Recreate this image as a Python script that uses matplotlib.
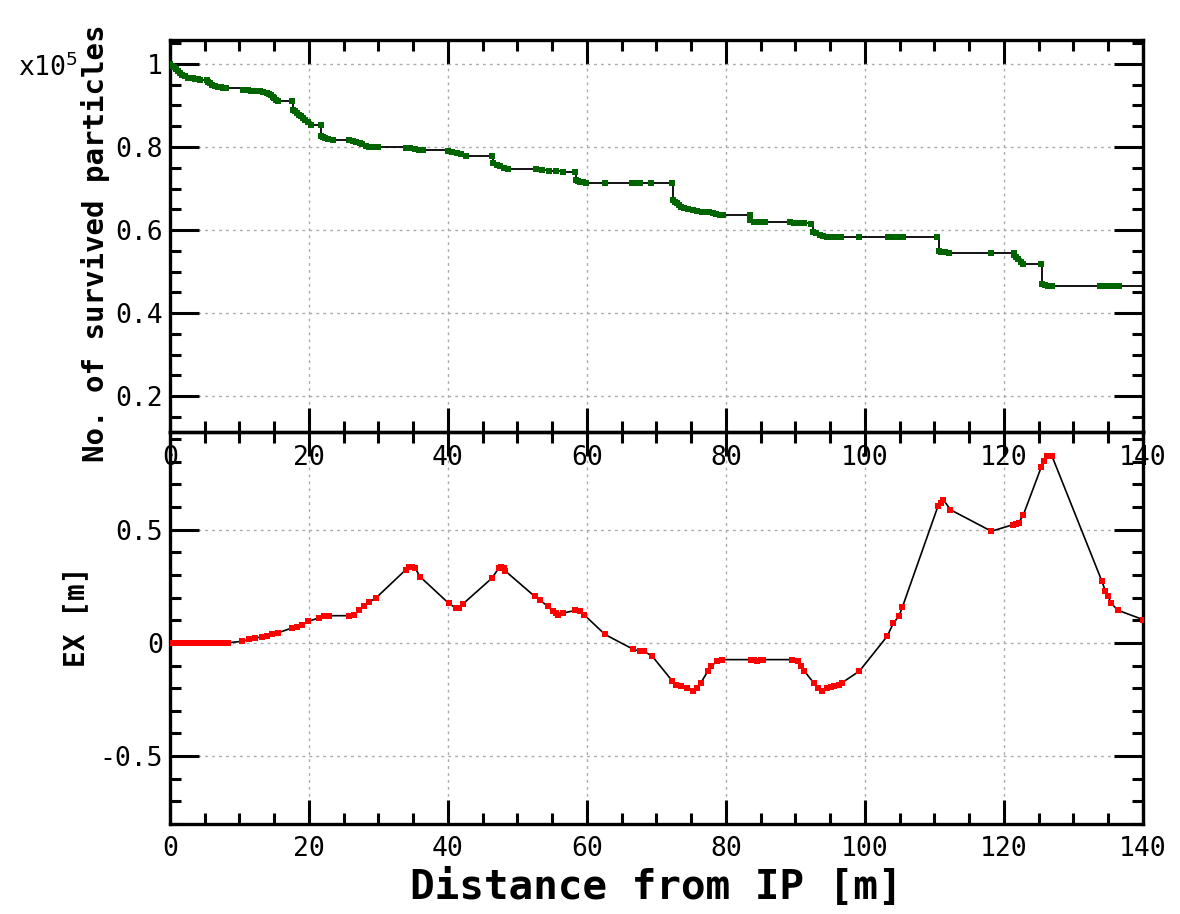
import numpy as np
import matplotlib
matplotlib.use("Agg")
import matplotlib.pyplot as plt
from matplotlib.ticker import MultipleLocator, FormatStrFormatter

# survived particles along the beam line (units of 1e5)
pos_surv = [0.0, 0.3, 0.6, 0.9, 1.2, 1.5, 1.8, 2.2, 2.6, 2.9, 3.3, 3.6, 4.0,
            4.3, 5.3, 5.5, 5.7, 6.1, 6.5, 6.9, 7.3, 7.7, 8.1, 10.5, 10.9,
            11.3, 11.7, 12.1, 12.5, 12.9, 13.4, 13.9, 14.2, 14.5, 14.8, 15.0,
            15.3, 15.6, 17.6, 17.7, 18.0, 18.3, 18.6, 18.9, 19.2, 19.5, 19.9,
            20.3, 21.7, 21.8, 22.0, 22.3, 22.8, 23.4, 25.8, 26.3, 26.8, 27.3,
            27.7, 28.2, 28.6, 29.0, 29.4, 29.9, 34.0, 34.6, 35.2, 35.8, 36.4,
            40.0, 40.6, 41.3, 41.9, 42.6, 46.4, 46.5, 47.0, 47.5, 48.0, 48.6,
            52.6, 53.5, 54.5, 55.5, 56.5, 58.3, 58.4, 58.7, 59.0, 59.4, 59.8,
            62.6, 66.5, 67.2, 67.7, 69.2, 72.3, 72.4, 72.7, 73.0, 73.3, 73.5,
            74.0, 74.6, 75.2, 75.8, 76.5, 77.0, 77.6, 78.1, 78.6, 79.1, 79.6,
            83.4, 83.5, 84.0, 84.5, 85.0, 85.6, 89.2, 89.8, 90.5, 91.2, 92.2,
            92.5, 93.0, 93.5, 94.0, 94.5, 95.0, 95.6, 96.1, 96.6, 99.1, 103.3,
            103.9, 104.6, 105.0, 105.5, 110.4, 110.6, 111.0, 111.5, 112.1,
            118.1, 121.4, 121.5, 121.8, 122.0, 122.4, 122.8, 125.4, 125.5,
            125.9, 126.4, 126.9, 133.8, 134.2, 134.6, 135.0, 135.4, 135.8,
            136.2, 136.6]
survived = [1.000, 0.996, 0.992, 0.987, 0.982, 0.977, 0.973, 0.970, 0.967,
            0.966, 0.965, 0.964, 0.963, 0.962, 0.961, 0.957, 0.954, 0.950,
            0.947, 0.945, 0.944, 0.943, 0.942, 0.938, 0.937, 0.936, 0.935,
            0.935, 0.934, 0.934, 0.932, 0.930, 0.927, 0.925, 0.921, 0.918,
            0.914, 0.910, 0.910, 0.890, 0.886, 0.882, 0.878, 0.874, 0.869,
            0.864, 0.859, 0.854, 0.854, 0.827, 0.824, 0.822, 0.818, 0.816,
            0.816, 0.815, 0.813, 0.810, 0.806, 0.802, 0.801, 0.800, 0.800,
            0.800, 0.798, 0.797, 0.795, 0.793, 0.792, 0.790, 0.788, 0.785,
            0.782, 0.779, 0.779, 0.761, 0.757, 0.753, 0.750, 0.747, 0.747,
            0.745, 0.743, 0.741, 0.739, 0.739, 0.721, 0.718, 0.716, 0.715,
            0.714, 0.714, 0.714, 0.714, 0.714, 0.714, 0.714, 0.673, 0.668,
            0.664, 0.660, 0.656, 0.652, 0.650, 0.648, 0.646, 0.644, 0.644,
            0.643, 0.641, 0.639, 0.637, 0.636, 0.636, 0.624, 0.620, 0.620,
            0.620, 0.620, 0.620, 0.618, 0.617, 0.616, 0.615, 0.596, 0.592,
            0.588, 0.586, 0.584, 0.584, 0.584, 0.584, 0.584, 0.584, 0.584,
            0.584, 0.584, 0.584, 0.584, 0.584, 0.550, 0.547, 0.546, 0.544,
            0.544, 0.544, 0.540, 0.535, 0.530, 0.524, 0.519, 0.519, 0.471,
            0.467, 0.466, 0.465, 0.465, 0.465, 0.465, 0.465, 0.465, 0.465,
            0.465, 0.465]

# horizontal orbit EX [m]
pos_ex = [0.0, 0.5, 1.0, 1.5, 2.0, 2.5, 3.0, 3.5, 4.0, 4.5, 5.0, 5.5, 6.0,
          6.5, 7.0, 7.5, 8.0, 8.3, 10.4, 11.4, 12.3, 13.3, 14.0, 14.7, 15.5,
          17.6, 18.3, 19.0, 19.9, 21.4, 22.2, 22.9, 25.7, 26.5, 27.2, 27.9,
          28.6, 29.6, 33.9, 34.4, 34.8, 35.3, 36.0, 40.1, 41.1, 41.6, 42.2,
          46.3, 47.3, 47.7, 48.0, 48.2, 52.5, 53.2, 54.4, 55.1, 55.5, 55.9,
          56.6, 58.3, 59.0, 59.6, 62.6, 66.7, 67.7, 68.2, 69.4, 72.3, 72.8,
          73.6, 74.4, 75.2, 75.9, 76.4, 77.4, 77.9, 78.7, 79.5, 83.6, 84.0,
          84.4, 85.0, 85.4, 89.5, 90.3, 90.8, 91.3, 92.6, 93.3, 93.8, 94.6,
          95.1, 95.6, 96.2, 96.7, 99.2, 103.2, 104.1, 104.9, 105.4, 110.5,
          110.9, 111.3, 112.3, 118.2, 121.3, 121.7, 122.1, 122.8, 125.4,
          125.8, 126.2, 126.9, 134.1, 134.6, 135.0, 135.4, 136.4, 140.0]
ex = [0.0, 0.0, 0.0, 0.0, 0.0, 0.0, 0.0, 0.0, 0.0, 0.0, 0.0, 0.0, 0.0, 0.0,
      0.0, 0.0, 0.0, 0.0, 0.007, 0.015, 0.022, 0.026, 0.032, 0.037, 0.044,
      0.066, 0.070, 0.080, 0.095, 0.110, 0.117, 0.120, 0.120, 0.124, 0.143,
      0.161, 0.180, 0.197, 0.322, 0.333, 0.336, 0.329, 0.292, 0.175, 0.154,
      0.156, 0.173, 0.285, 0.329, 0.334, 0.329, 0.319, 0.205, 0.190, 0.161,
      0.139, 0.130, 0.124, 0.132, 0.143, 0.139, 0.124, 0.037, -0.029, -0.037,
      -0.037, -0.059, -0.169, -0.184, -0.191, -0.199, -0.213, -0.199, -0.176,
      -0.125, -0.103, -0.081, -0.074, -0.074, -0.076, -0.081, -0.077, -0.074,
      -0.074, -0.081, -0.103, -0.125, -0.176, -0.199, -0.213, -0.199, -0.195,
      -0.191, -0.185, -0.176, -0.125, 0.029, 0.088, 0.118, 0.159, 0.603,
      0.620, 0.632, 0.588, 0.493, 0.522, 0.525, 0.529, 0.566, 0.779, 0.805,
      0.826, 0.826, 0.272, 0.228, 0.205, 0.176, 0.144, 0.103]

plt.rcParams['font.family'] = ['DejaVu Sans Mono']
plt.rcParams['mathtext.fontset'] = 'dejavusans'

fig = plt.figure(figsize=(11.8, 9.14), dpi=100)
ax1 = fig.add_axes([0.144, 0.527, 0.8246, 0.429])
ax2 = fig.add_axes([0.144, 0.0985, 0.8246, 0.4285])
# top panel drawn last so its tick labels and ylabel sit over the lower panel
ax1.set_zorder(3)
ax1.patch.set_alpha(0)


def style(ax, ymaj, ymin):
    ax.set_xlim(0, 140)
    ax.xaxis.set_major_locator(MultipleLocator(20))
    ax.xaxis.set_minor_locator(MultipleLocator(5))
    ax.yaxis.set_major_locator(MultipleLocator(ymaj))
    ax.yaxis.set_minor_locator(MultipleLocator(ymin))
    ax.yaxis.set_major_formatter(FormatStrFormatter('%g'))
    ax.tick_params(which='both', direction='in', top=True, right=True,
                   width=2.2, labelsize=19)
    ax.tick_params(axis='x', which='major', length=17, pad=9)
    ax.tick_params(axis='y', which='major', length=21, pad=5)
    ax.tick_params(which='minor', length=8)
    for s in ax.spines.values():
        s.set_linewidth(2.4)
    ax.grid(True, which='major', linestyle=(0, (2, 3)), color='#aaaaaa',
            linewidth=1.0)
    ax.set_axisbelow(True)


style(ax1, 0.2, 0.05)
style(ax2, 0.5, 0.1)

ax1.set_ylim(0.113, 1.057)
ax1.step(np.r_[pos_surv, 140], np.r_[survived, survived[-1]], where='post',
         color='black', linewidth=1.3, zorder=2)
ax1.plot(pos_surv, survived, 's', color='#006400', markersize=4.2,
         markeredgewidth=0, zorder=3)
ax1.set_ylabel('No. of survived particles', fontsize=21, fontweight='bold')
ax1.yaxis.set_label_coords(-0.062, 0.482)
fig.text(0.015, 0.926, 'x10$^5$', fontsize=19, va='center', ha='left')

ax2.set_ylim(-0.8, 0.93)
ax2.plot(pos_ex, ex, '-', color='black', linewidth=1.2, zorder=2)
ax2.plot(pos_ex, ex, 's', color='red', markersize=4.2, markeredgewidth=0,
         zorder=3)
ax2.set_ylabel('EX [m]', fontsize=20, fontweight='bold')
ax2.yaxis.set_label_coords(-0.082, 0.53)
ax2.set_xlabel('Distance from IP [m]', fontsize=29.5, fontweight='bold',
               labelpad=4)

fig.savefig('out.png', dpi=100)
